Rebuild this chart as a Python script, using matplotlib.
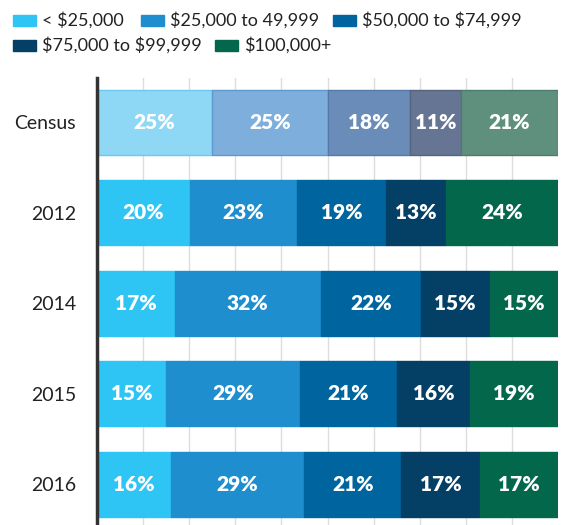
import matplotlib.pyplot as plt
import numpy as np
from matplotlib.patches import Rectangle

rows = ["Census", "2012", "2014", "2015", "2016"]
brackets = ["< $25,000", "$25,000 to 49,999", "$50,000 to $74,999",
            "$75,000 to $99,999", "$100,000+"]
census = [25, 25, 18, 11, 21]
y2012 = [20, 23, 19, 13, 24]
y2014 = [17, 32, 22, 15, 15]
y2015 = [15, 29, 21, 16, 19]
y2016 = [16, 29, 21, 17, 17]

colors = ["#2ec4f4", "#1e8ecf", "#00659e", "#043f66", "#02674b"]
census_colors = ["#8ed8f6", "#7eaedc", "#6a8cb9", "#667594", "#5e907d"]
census_edges = ["#6cc8ee", "#5f98d0", "#5579a8", "#55647f", "#4d7d6a"]

data = np.array([census, y2012, y2014, y2015, y2016], dtype=float)
shares = data / data.sum(axis=1, keepdims=True) * 100

plt.rcParams["font.family"] = ["Lato", "DejaVu Sans"]
plt.rcParams["text.parse_math"] = False

fig = plt.figure(figsize=(5.64, 5.25), dpi=100)
ax = fig.add_axes([97 / 564, 0, 461 / 564, 447 / 525])

ypos = np.arange(len(rows))
left = np.zeros(len(rows))
for j in range(len(brackets)):
    fc = [census_colors[j]] + [colors[j]] * (len(rows) - 1)
    ec = [census_edges[j]] + [colors[j]] * (len(rows) - 1)
    bars = ax.barh(ypos, shares[:, j], left=left, height=0.72, color=fc,
                   edgecolor=ec, linewidth=1, zorder=2)
    for i, b in enumerate(bars):
        ax.text(left[i] + shares[i, j] / 2, ypos[i], f"{int(data[i, j])}%",
                ha="center", va="center", color="white", fontsize=15,
                fontweight="heavy", zorder=3)
    left += shares[:, j]

ax.set_xlim(0, 100)
ax.set_ylim(4.45, -0.49)
ax.set_xticks(np.arange(10, 100, 10))
ax.xaxis.grid(True, color="#dddddd", linewidth=1, zorder=0)
ax.set_axisbelow(True)
ax.tick_params(axis="x", length=0, labelbottom=False)
ax.tick_params(axis="y", length=0, pad=15, labelsize=14, labelcolor="#222222")
ax.set_yticks(ypos)
ax.set_yticklabels(rows)
for s in ["top", "right", "bottom"]:
    ax.spines[s].set_visible(False)
ax.spines["left"].set_color("#333333")
ax.spines["left"].set_linewidth(2.5)

# legend laid out in two flowing rows
leg_pos = [(13, 20), (141, 20), (333, 20), (13, 45), (215, 45)]
W, H = 564, 525
for (px, py), lab, c in zip(leg_pos, brackets, colors):
    fig.patches.append(Rectangle((px / W, 1 - (py + 5.5) / H), 23 / W, 11 / H,
                                 transform=fig.transFigure, color=c))
    fig.text((px + 29) / W, 1 - py / H, lab, ha="left", va="center",
             fontsize=13, color="#222222")

fig.savefig("out.png", dpi=100)
